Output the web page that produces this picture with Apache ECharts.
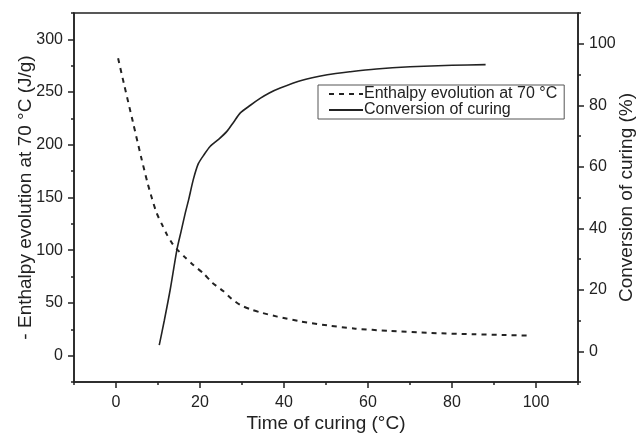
<!DOCTYPE html>
<html>
<head>
<meta charset="utf-8">
<script src="https://cdn.jsdelivr.net/npm/echarts@6/dist/echarts.min.js"></script>
<style>
  html, body { margin: 0; padding: 0; background: #fff; }
  #chart { width: 637px; height: 435px; }
</style>
</head>
<body>
<div id="chart"></div>
<script>
// Enthalpy of the residual cure (left axis) as [time, J/g]
const enthalpyData = [
  [0.5, 282], [2, 256], [4, 222], [6, 188], [7.5, 164], [8.5, 150],
  [9.7, 135], [11, 124], [12.1, 115], [13.3, 107], [14.5, 101], [16.5, 93],
  [18.4, 86], [20.8, 78], [23, 69], [25.6, 61], [27.5, 54], [29.6, 48],
  [32, 44], [34.4, 41], [38.4, 37], [43.9, 32.5], [50.3, 28.7], [57, 25.6],
  [65, 23.5], [75, 21.5], [85, 20.3], [92, 19.6], [98, 19]
];
// Degree of conversion (right axis) as [time, %]
const conversionData = [
  [10.3, 2], [11.5, 10], [12.9, 20], [14.5, 33], [15.5, 39], [16.5, 45],
  [17.3, 49.3], [18.4, 55.8], [19.6, 61], [21, 64], [22.4, 66.6], [24.5, 69],
  [26.4, 71.5], [28, 74.5], [29.6, 77.5], [32, 80], [34.4, 82.3], [36.5, 84],
  [39.1, 85.6], [43.9, 88], [50.3, 89.9], [55.8, 90.9], [62, 91.8], [70, 92.5],
  [80, 93], [88, 93.2]
];

// Tick positions
const xTicks = [0, 20, 40, 60, 80, 100];
const xMinorTicks = [-10, 10, 30, 50, 70, 90, 110];
const leftTicks = [0, 50, 100, 150, 200, 250, 300];
const leftMinorTicks = [-25, 25, 75, 125, 175, 225, 275, 325];
const rightTicks = [0, 20, 40, 60, 80, 100];
const rightMinorTicks = [-10, 10, 30, 50, 70, 90, 110];

const INK = '#222';
const FONT = 'Liberation Sans, Arial, sans-serif';

const chart = echarts.init(document.getElementById('chart'), null, { renderer: 'canvas' });

const labelStyle = { color: INK, fontSize: 16, fontFamily: FONT };
const nameStyle = { color: INK, fontSize: 19, fontFamily: FONT };

// Extra axis that only draws the short minor ticks
function minorAxis(base, values) {
  return Object.assign({}, base, {
    axisLine: { show: false, onZero: false },
    axisLabel: { show: false },
    splitLine: { show: false },
    axisTick: { show: true, inside: false, length: 3, customValues: values, lineStyle: { color: INK, width: 1.5 } },
    name: ''
  });
}

const xBase = { type: 'value', min: -10, max: 110, gridIndex: 0, position: 'bottom' };
const leftBase = { type: 'value', min: -25, max: 325, gridIndex: 0, position: 'left' };
const rightBase = { type: 'value', min: -10, max: 110, gridIndex: 0, position: 'right' };

chart.setOption({
  animation: false,
  backgroundColor: '#fff',
  grid: {
    left: 74, right: 59, top: 13, bottom: 53,
    outerBoundsMode: 'none',
    containLabel: false,
    show: true, borderColor: INK, borderWidth: 1.5, backgroundColor: 'transparent'
  },
  legend: {
    orient: 'vertical',
    left: 318, top: 85,
    borderColor: '#555', borderWidth: 1,
    padding: [1, 7, 1, 10],
    itemGap: 0,
    itemWidth: 34, itemHeight: 12,
    itemStyle: { opacity: 0 },
    textStyle: { color: INK, fontSize: 16, lineHeight: 15, fontFamily: FONT, padding: [0, 0, 0, -4] },
    data: ['Enthalpy evolution at 70 °C', 'Conversion of curing']
  },
  xAxis: [
    Object.assign({}, xBase, {
      name: 'Time of curing (°C)', nameLocation: 'middle', nameGap: 32, nameMoveOverlap: false,
      nameTextStyle: nameStyle,
      axisLine: { show: true, onZero: false, lineStyle: { color: INK, width: 1.5 } },
      axisTick: { show: true, length: 6, customValues: xTicks, lineStyle: { color: INK, width: 1.5 } },
      axisLabel: Object.assign({ customValues: xTicks, margin: 13 }, labelStyle),
      splitLine: { show: false }
    }),
    minorAxis(xBase, xMinorTicks)
  ],
  yAxis: [
    Object.assign({}, leftBase, {
      name: '- Enthalpy evolution at 70 °C (J/g)', nameLocation: 'middle', nameGap: 39, nameMoveOverlap: false,
      nameTextStyle: nameStyle,
      axisLine: { show: true, onZero: false, lineStyle: { color: INK, width: 1.5 } },
      axisTick: { show: true, length: 6, customValues: leftTicks, lineStyle: { color: INK, width: 1.5 } },
      axisLabel: Object.assign({ customValues: leftTicks, margin: 11 }, labelStyle),
      splitLine: { show: false }
    }),
    Object.assign({}, rightBase, {
      name: 'Conversion of curing (%)', nameLocation: 'middle', nameGap: 39, nameMoveOverlap: false,
      nameTextStyle: nameStyle,
      axisLine: { show: true, onZero: false, lineStyle: { color: INK, width: 1.5 } },
      axisTick: { show: true, length: 6, customValues: rightTicks, lineStyle: { color: INK, width: 1.5 } },
      axisLabel: Object.assign({ customValues: rightTicks, margin: 11 }, labelStyle),
      splitLine: { show: false }
    }),
    minorAxis(leftBase, leftMinorTicks),
    minorAxis(rightBase, rightMinorTicks)
  ],
  series: [
    {
      name: 'Enthalpy evolution at 70 °C',
      type: 'line',
      xAxisIndex: 0, yAxisIndex: 0,
      data: enthalpyData,
      smooth: 0.25,
      showSymbol: false, symbol: 'none',
      lineStyle: { color: INK, width: 2, type: [5, 5] },
      itemStyle: { color: INK }
    },
    {
      name: 'Conversion of curing',
      type: 'line',
      xAxisIndex: 0, yAxisIndex: 1,
      data: conversionData,
      smooth: 0.25,
      showSymbol: false, symbol: 'none',
      lineStyle: { color: INK, width: 1.6 },
      itemStyle: { color: INK }
    }
  ]
});
</script>
</body>
</html>
